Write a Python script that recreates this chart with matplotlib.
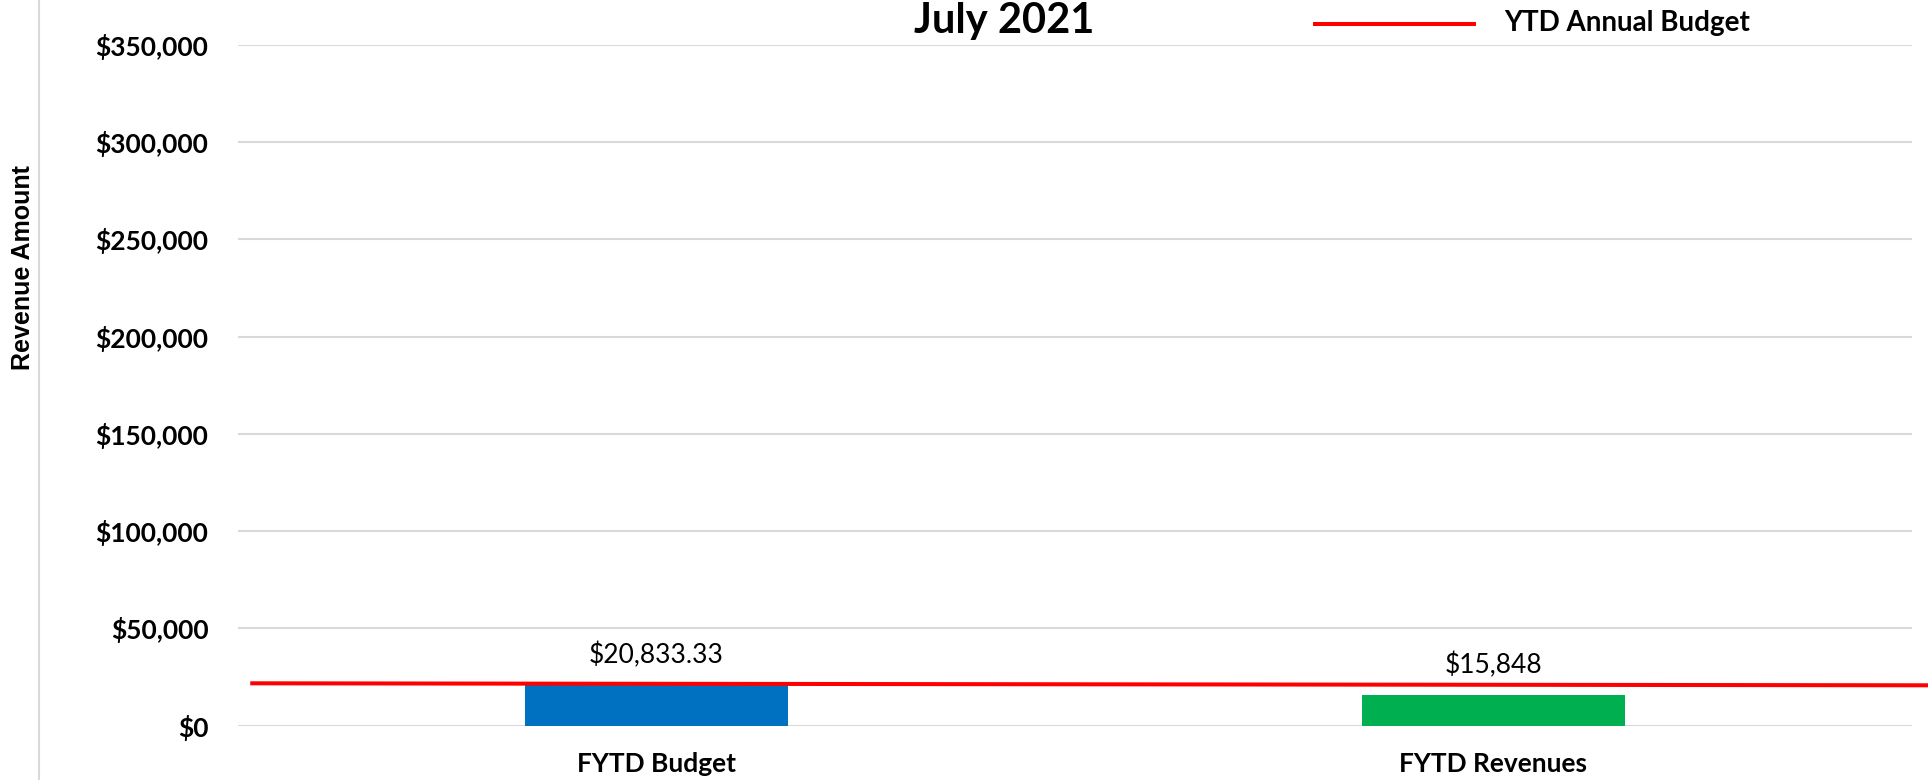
import matplotlib
matplotlib.use("Agg")
import matplotlib.pyplot as plt
from matplotlib.lines import Line2D
from matplotlib.ticker import FuncFormatter

# ---- data ----
categories = ["FYTD Budget", "FYTD Revenues"]
values = [20833.33, 15848]
value_labels = ["$20,833.33", "$15,848"]
bar_colors = ["#0070C0", "#00B050"]
budget_line_name = "YTD Annual Budget"
budget_line_values = [21800, 20770]   # left end, right end
y_ticks = [0, 50000, 100000, 150000, 200000, 250000, 300000, 350000]
title = "July 2021"
y_label = "Revenue Amount"

W, H = 1928, 780
fig = plt.figure(figsize=(W / 100, H / 100), dpi=100)
ax = fig.add_axes([237.7 / W, 1 - 725.7 / H, (1911.7 - 237.7) / W, (725.7 - 45) / H])

FONT = "Lato"
x = list(range(len(categories)))
ax.bar(x, values, width=0.314, color=bar_colors, zorder=2)
ax.set_xlim(-0.5, len(categories) - 0.5)
ax.set_ylim(0, 350000)

# red YTD annual budget line (extends past the right edge of the plot)
span = [-0.485, 1.52]
ax.plot(span, budget_line_values, color="#FF0000", lw=2.9, zorder=3,
        clip_on=False, solid_capstyle="butt")

for xi, v, lab in zip(x, values, value_labels):
    ax.annotate(lab, (xi, v), xytext=(0, 21.6), textcoords="offset points",
                ha="center", va="center", fontsize=19, family=FONT,
                color="#000000")

ax.set_yticks(y_ticks)
ax.yaxis.set_major_formatter(FuncFormatter(lambda v, p: f"${v:,.0f}"))
ax.set_xticks(x)
ax.set_xticklabels(categories)
ax.grid(axis="y", color="#D9D9D9", lw=1.5, zorder=0)
ax.set_axisbelow(True)
for s in ax.spines.values():
    s.set_visible(False)
ax.tick_params(axis="both", length=0)
ax.tick_params(axis="y", pad=21, labelsize=19)
ax.tick_params(axis="x", pad=19, labelsize=19)
for t in ax.get_yticklabels() + ax.get_xticklabels():
    t.set_family(FONT)
    t.set_fontweight("bold")

# y-axis label
fig.text(23 / W, 1 - 268 / H, y_label, rotation=90, ha="center", va="center",
         fontsize=18, fontweight="bold", family="Liberation Sans")

# chart border line on left
fig.add_artist(Line2D([39 / W, 39 / W], [0, 1], color="#D9D9D9", lw=1.5))

# title
fig.text(1004 / W, 1 - 33 / H, title, ha="center", va="baseline",
         fontsize=30, fontweight="bold", family=FONT)

# legend
fig.add_artist(Line2D([1313 / W, 1476 / W], [1 - 24.3 / H, 1 - 24.3 / H],
                      color="#FF0000", lw=2.9, solid_capstyle="butt"))
fig.text(1504 / W, 1 - 31 / H, budget_line_name, ha="left", va="baseline",
         fontsize=20, fontweight="bold", family=FONT)

fig.savefig("out.png", dpi=100)
